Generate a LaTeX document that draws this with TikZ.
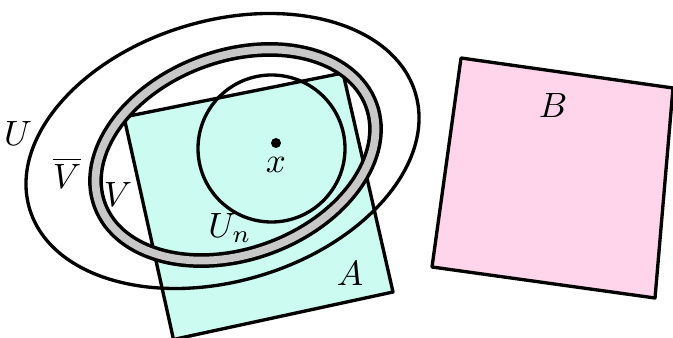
\documentclass[tikz,border=0pt]{standalone}
\usepackage{tikz}
\usepackage[svgnames]{xcolor}
\definecolor{setA}{RGB}{204,251,241}
\definecolor{setB}{RGB}{255,213,236}
\definecolor{ringgray}{RGB}{200,200,200}
\tikzset{
  setline/.style={line width=0.95pt},
  lbl/.style={inner sep=0pt}
}

\begin{document}
\begin{tikzpicture}[scale=1]
  \useasboundingbox (0,0) rectangle (6.73,3.38);

  % 坐标点定义
  \coordinate (A1) at (1.24,2.21);
  \coordinate (A2) at (3.43,2.65);
  \coordinate (A3) at (3.93,0.46);
  \coordinate (A4) at (1.735,-0.015);
  \coordinate (B1) at (4.61,2.80);
  \coordinate (B2) at (6.73,2.50);
  \coordinate (B3) at (6.55,0.40);
  \coordinate (B4) at (4.32,0.71);
  \coordinate (P) at (2.76,1.95);

  % 集合 A, B
  \draw[setline, fill=setA, line join=round] (A1) -- (A2) -- (A3) -- (A4) -- cycle;
  \draw[setline, fill=setB, line join=round] (B1) -- (B2) -- (B3) -- (B4) -- cycle;

  % 开集 U
  \draw[setline] (2.225,1.87) ellipse [x radius=2.014, y radius=1.302, rotate=16.7];

  % 闭包 V 的边界
  \draw[line width=4.2pt] (2.355,1.83) ellipse [x radius=1.447, y radius=0.99, rotate=20.3];
  \draw[line width=2.2pt, ringgray] (2.355,1.83) ellipse [x radius=1.447, y radius=0.99, rotate=20.3];

  % 邻域 U_n
  \draw[setline] (2.715,1.895) circle (0.735);

  % 点标记
  \fill[black] (P) circle (0.05);

  % 标签
  \node[lbl] (labU) at (0.18,2.05) {$U$};
  \node[lbl] (labVbar) at (0.67,1.65) {$\overline{V}$};
  \node[lbl] (labV) at (1.18,1.44) {$V$};
  \node[lbl] (labUn) at (2.30,1.10) {$U_n$};
  \node[lbl, below=4pt] (labx) at (P) {$x$};
  \node[lbl] (labA) at (3.50,0.65) {$A$};
  \node[lbl] (labB) at (5.53,2.33) {$B$};
\end{tikzpicture}
\end{document}
